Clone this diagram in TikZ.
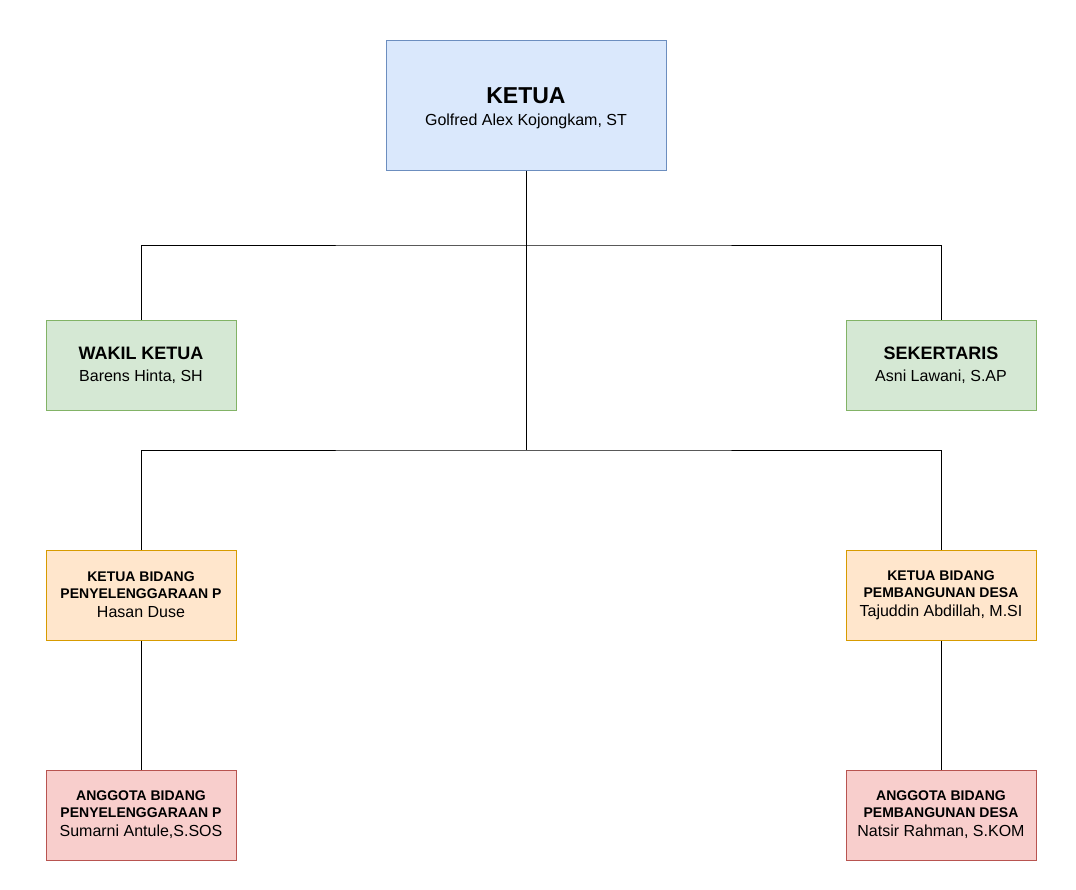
\documentclass[tikz,border=0pt]{standalone}
\usepackage{fontspec}
\setmainfont{Liberation Sans}
\usepackage{tikz}
\definecolor{biruisi}{HTML}{DAE8FC}
\definecolor{birugaris}{HTML}{6C8EBF}
\definecolor{hijauisi}{HTML}{D5E8D4}
\definecolor{hijaugaris}{HTML}{82B366}
\definecolor{oranyeisi}{HTML}{FFE6CC}
\definecolor{oranyegaris}{HTML}{D79B00}
\definecolor{merahisi}{HTML}{F8CECC}
\definecolor{merahgaris}{HTML}{B85450}
\begin{document}
\begin{tikzpicture}[x=0.75pt,y=-0.75pt,line width=0.75pt,
  kotak/.style={draw,inner sep=0pt,align=center,minimum width=142.5pt,minimum height=67.5pt,
    font=\fontsize{12}{14.25}\selectfont},
  biru/.style={kotak,fill=biruisi,draw=birugaris,minimum width=210pt,minimum height=97.5pt},
  hijau/.style={kotak,fill=hijauisi,draw=hijaugaris},
  oranye/.style={kotak,fill=oranyeisi,draw=oranyegaris},
  merah/.style={kotak,fill=merahisi,draw=merahgaris}]
\useasboundingbox (0,0) rectangle (1076,890);
\node[biru] (ketua) at (526,105)
  {\mbox{}\\[2.6pt]{\fontsize{17.25}{18}\selectfont\bfseries KETUA}\\[2.25pt] Golfred Alex Kojongkam, ST};
\node[hijau] (wakil) at (141,365)
  {{\fontsize{13.5}{15}\selectfont\bfseries WAKIL KETUA}\\[2.25pt] Barens Hinta, SH};
\node[hijau] (sekretaris) at (941,365)
  {{\fontsize{13.5}{15}\selectfont\bfseries SEKERTARIS}\\[2.25pt] Asni Lawani, S.AP};
\node[oranye] (bidangp) at (141,595)
  {{\fontsize{10.5}{12}\selectfont\bfseries KETUA BIDANG}\\[-1.5pt]
   {\fontsize{10.5}{12}\selectfont\bfseries PENYELENGGARAAN P}\\ Hasan Duse};
\node[oranye] (bidangd) at (941,595)
  {{\fontsize{10.5}{12}\selectfont\bfseries KETUA BIDANG}\\[-1.5pt]
   {\fontsize{10.5}{12}\selectfont\bfseries PEMBANGUNAN DESA}\\ Tajuddin Abdillah, M.SI};
\node[merah] (anggotap) at (141,815)
  {{\fontsize{10.5}{12}\selectfont\bfseries ANGGOTA BIDANG}\\[-1.5pt]
   {\fontsize{10.5}{12}\selectfont\bfseries PENYELENGGARAAN P}\\ Sumarni Antule,S.SOS};
\node[merah] (anggotad) at (941,815)
  {{\fontsize{10.5}{12}\selectfont\bfseries ANGGOTA BIDANG}\\[-1.5pt]
   {\fontsize{10.5}{12}\selectfont\bfseries PEMBANGUNAN DESA}\\ Natsir Rahman, S.KOM};
\coordinate (cabang1) at (526,245);
\coordinate (cabang2) at (526,450);
\draw (ketua.south) -- (cabang2);
\draw (wakil.north) |- (cabang1) -| (sekretaris.north);
\draw (bidangp.north) |- (cabang2) -| (bidangd.north);
\draw (bidangp.south) -- (anggotap.north);
\draw (bidangd.south) -- (anggotad.north);
\end{tikzpicture}
\end{document}
